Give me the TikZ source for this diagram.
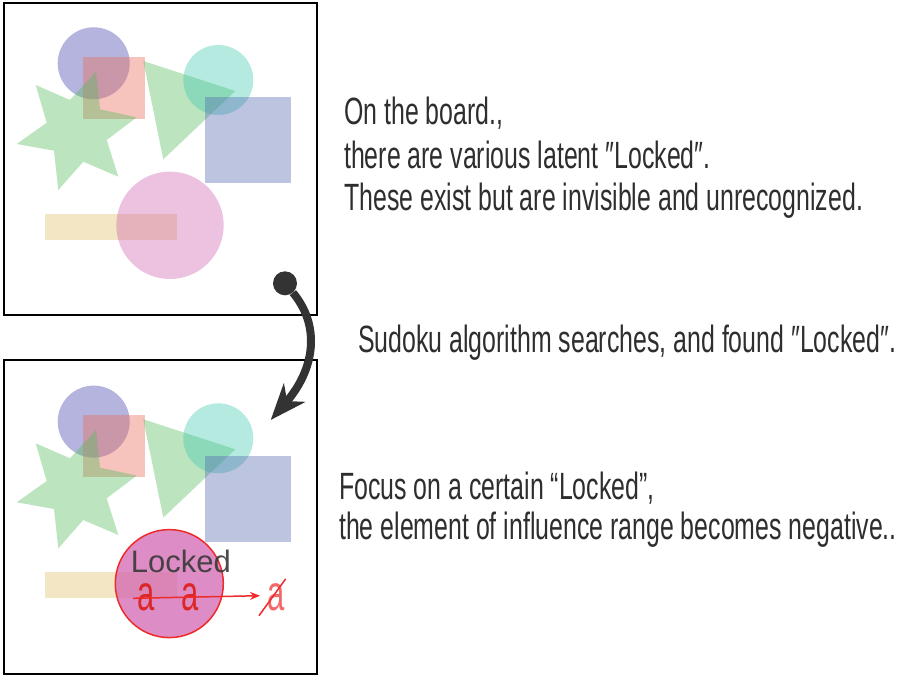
\documentclass[tikz,border=0pt]{standalone}
\usepackage{fontspec}
\setmainfont{Liberation Sans}
\newfontfamily\narrowfont[FakeStretch=0.655]{Liberation Sans}
\newfontfamily\glyphfont[FakeStretch=0.62]{Liberation Sans}
\usetikzlibrary{arrows.meta}
\definecolor{circblue}{HTML}{4343AC}
\definecolor{sqred}{HTML}{E86B57}
\definecolor{shapegreen}{HTML}{57BB5C}
\definecolor{circcyan}{HTML}{43CAB1}
\definecolor{sqblue}{HTML}{576BB1}
\definecolor{circpink}{HTML}{D266B1}
\definecolor{baryellow}{HTML}{DEC06B}
\definecolor{lockred}{HTML}{EE2A2A}
\definecolor{arrowgray}{HTML}{333333}
\tikzset{
  frame/.style    = {draw=black, line width=1.5pt, minimum width=313pt,
                     anchor=north west, inner sep=0pt},
  latent/.style   = {fill opacity=0.4},
  note/.style     = {anchor=base west, inner sep=0pt, text=black!82,
                     font=\narrowfont\fontsize{38}{44}\selectfont},
  glyph/.style    = {anchor=base west, inner sep=0pt,
                     font=\glyphfont\fontsize{50}{56}\selectfont},
  bigarrow/.style = {-{Stealth[length=36pt,width=28pt,inset=11pt]},
                     line width=8pt, draw=arrowgray},
  push/.style     = {-{Stealth[length=10pt,width=8pt]}, line width=1.5pt,
                     draw=lockred},
}
%% the latent objects on one board (all but the big pink circle)
\newcommand{\latentshapes}{%
  \fill[latent, circblue] (93.7,63.3) circle (36);
  \fill[latent, sqred] (83,56.7) rectangle (145.3,118.7);
  \fill[latent, shapegreen] (35.7,85) -- (70,100) -- (96,71.7) -- (100,109.3)
    -- (136.7,117.3) -- (106.7,140) -- (118.3,176.7) -- (83.3,161.7)
    -- (58.3,190) -- (54,150.7) -- (16.7,144) -- (46.7,122.7) -- cycle;
  \fill[latent, shapegreen] (143.3,61) -- (235.3,91) -- (163.3,159.3) -- cycle;
  \fill[latent, circcyan] (218.3,80) circle (35);
  \fill[latent, sqblue] (205,97.3) rectangle (291,183.3);
  \fill[latent, baryellow] (45,213.7) rectangle (176.7,239.7);
}

\begin{document}
\begin{tikzpicture}[x=1pt, y=-1pt]
\useasboundingbox (0,0) rectangle (898,675);

%% --- board before the search ---------------------------------------------
\node[frame, minimum height=312pt] (before) at (3,2) {};
\latentshapes
\fill[latent, circpink] (170,225.3) circle (53.7);

%% --- board after the search ----------------------------------------------
\node[frame, minimum height=314pt] (after) at (3,359) {};
\begin{scope}[shift={(0,358.3)}]
  \latentshapes
  \fill[circpink, fill opacity=0.75] (169.3,225.3) circle (54);
  \draw[lockred, line width=1.5pt] (169.3,225.3) circle (54);
\end{scope}

\node[anchor=base west, inner sep=0pt, text=black!78, text opacity=0.9,
      font=\fontsize{31}{36}\selectfont] (locked) at (130.7,572) {Locked};
\node[glyph, text=lockred!92!black] (a1) at (137,610) {a};
\node[glyph, text=lockred!92!black] (a2) at (181.7,610) {a};
\node[glyph, text=lockred, text opacity=0.7] (a3) at (267,610) {a};

\coordinate (pstart) at (133,598.3);
\coordinate (pend) at (260,595.7);
\draw[push] (pstart) -- (pend);
\draw[lockred, line width=1.5pt] ([shift={(-8,5)}]a3.south west)
  -- ([shift={(1,-4)}]a3.north east);

%% --- search arrow --------------------------------------------------------
\node[circle, fill=arrowgray, minimum size=24pt, inner sep=0pt] (dot) at (285,283.3) {};
\coordinate (tip) at (270.7,420);
\draw[bigarrow] (dot) .. controls (320,325) and (316,368) .. (tip);

%% --- notes ---------------------------------------------------------------
\node[note] (n1a) at (344,124) {On the board.,};
\node[note] (n1b) at (344,168) {there are various latent ″Locked″.};
\node[note] (n1c) at (344,210) {These exist but are invisible and unrecognized.};
\node[note] (n2)  at (358,352) {Sudoku algorithm searches, and found ″Locked″.};
\node[note] (n3a) at (339,499) {Focus on a certain “Locked”,};
\node[note] (n3b) at (339,539) {the element of influence range becomes negative..};

\end{tikzpicture}
\end{document}
